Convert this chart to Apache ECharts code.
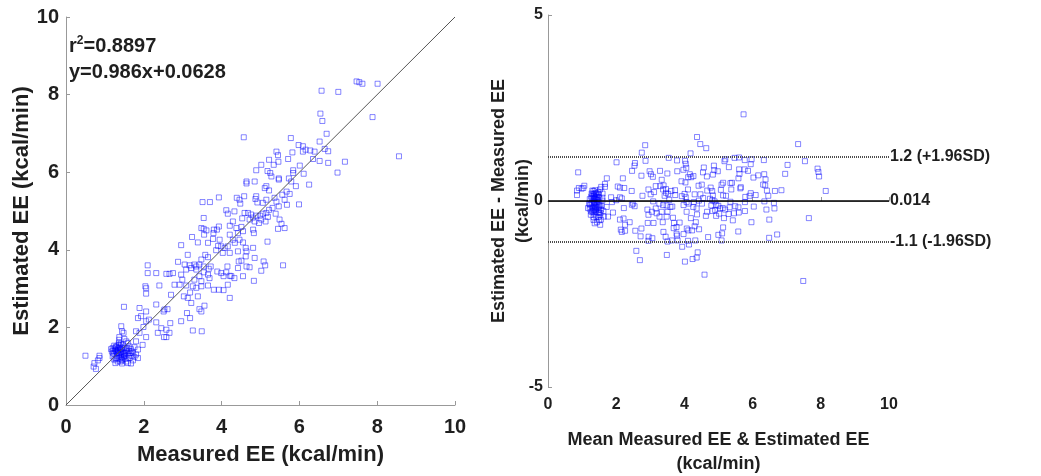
<!DOCTYPE html>
<html>
<head>
<meta charset="utf-8">
<title>Estimated vs measured EE</title>
<script src="https://cdn.jsdelivr.net/npm/echarts@6/dist/echarts.min.js"></script>
<style>
  html, body { margin: 0; padding: 0; background: #fff; }
  #chart { width: 1041px; height: 476px; }
</style>
</head>
<body>
<div id="chart"></div>
<script>
// Paired observations (kcal/min): measured EE and device-estimated EE
const measured = [
  7.47, 7.54, 7.62, 8.01, 6.57, 7.00, 6.54, 6.59, 7.88, 6.70, 6.52, 4.57, 5.78, 5.98, 6.09, 6.16, 6.28, 6.39, 6.09, 6.74,
  6.65, 5.41, 5.45, 5.82, 8.56, 6.52, 6.74, 7.17, 6.35, 5.22, 5.46, 5.71, 5.02, 5.34, 6.01, 6.98, 6.11, 5.84, 5.84, 4.89,
  5.18, 5.25, 5.28, 5.47, 5.47, 5.73, 5.79, 4.64, 4.64, 4.85, 5.15, 5.22, 5.11, 6.25, 5.91, 3.93, 3.51, 3.70, 4.39, 4.46,
  4.58, 4.48, 4.89, 4.87, 4.92, 5.06, 5.15, 5.36, 5.41, 5.67, 5.75, 5.56, 5.62, 5.99, 5.68, 5.47, 4.12, 4.16, 4.33, 4.59,
  4.68, 4.76, 4.89, 4.81, 4.99, 5.06, 5.15, 5.22, 5.31, 5.02, 5.13, 4.96, 4.85, 4.72, 4.53, 5.39, 5.19, 5.49, 5.54, 5.45,
  5.62, 5.18, 3.54, 3.93, 3.88, 3.80, 3.48, 3.54, 3.61, 4.29, 4.21, 4.38, 4.51, 4.42, 4.55, 4.81, 4.83, 3.79, 3.55, 3.78,
  3.95, 4.21, 4.29, 4.46, 4.55, 4.34, 4.16, 3.24, 3.39, 3.65, 2.96, 3.91, 3.99, 4.08, 3.86, 4.03, 4.21, 4.42, 4.62, 4.64,
  4.81, 4.62, 4.85, 4.44, 4.51, 4.64, 4.72, 4.15, 4.42, 5.08, 5.12, 5.02, 5.58, 3.13, 3.58, 3.65, 3.48, 2.88, 3.05, 3.18,
  3.30, 3.35, 3.43, 3.22, 3.09, 3.35, 3.54, 3.67, 3.72, 3.89, 3.99, 4.12, 4.05, 4.21, 4.33, 4.25, 4.55, 4.83, 3.54, 3.65,
  3.69, 3.43, 3.30, 3.48, 2.96, 2.99, 2.75, 2.92, 3.09, 3.26, 3.35, 3.48, 3.65, 3.80, 3.93, 4.05, 4.16, 2.58, 2.66, 2.32,
  2.10, 2.10, 2.40, 2.04, 2.06, 2.06, 2.79, 3.03, 3.13, 3.19, 3.39, 3.22, 2.70, 4.21, 3.56, 3.48, 3.43, 2.32, 2.53, 2.51,
  2.06, 1.89, 1.49, 2.61, 2.68, 3.11, 3.19, 2.96, 1.85, 1.93, 2.06, 2.13, 2.32, 2.58, 2.45, 3.26, 3.49, 2.36, 2.58, 2.52,
  2.66, 1.80, 1.89, 2.06, 1.97, 1.80, 1.99,
  1.42, 1.44, 1.48, 1.37, 1.50, 1.37, 1.59, 1.46, 1.29, 1.20, 1.33, 1.42, 1.50, 1.55, 1.67, 1.76, 1.85, 1.80, 1.72, 1.61,
  1.48, 1.37, 1.24, 1.18, 1.20, 1.30, 1.42, 1.53, 1.63, 1.72, 1.85, 1.27, 1.44, 1.59, 1.67, 1.33, 1.24, 1.56, 1.29, 1.46,
  1.39, 1.36, 1.63, 1.70, 1.76, 1.37, 1.50, 1.65, 1.16, 1.24, 1.55, 1.33, 1.44, 1.55, 1.39,
  1.26, 1.31, 1.41, 1.45, 1.35, 1.52, 1.28, 1.40, 1.22, 1.47, 1.58, 1.34, 1.43, 1.69, 1.38,
  1.32, 1.49, 1.36, 1.27, 1.53, 1.41, 1.62, 1.30, 1.45, 1.21,
  0.50, 0.73, 0.71, 0.86, 0.86, 0.82, 0.77
];
const estimated = [
  8.34, 8.32, 8.28, 8.28, 8.10, 8.07, 7.51, 7.32, 7.42, 6.99, 6.79, 6.90, 6.88, 6.70, 6.67, 6.58, 6.56, 6.53, 6.53, 6.54,
  6.60, 6.53, 6.44, 6.51, 6.41, 6.29, 6.24, 6.27, 6.34, 6.32, 6.27, 6.34, 6.19, 6.19, 6.17, 5.99, 5.96, 6.05, 5.98, 6.05,
  6.03, 5.98, 5.89, 5.84, 5.81, 5.84, 5.76, 5.76, 5.71, 5.76, 5.64, 5.53, 5.59, 5.68, 5.64, 5.35, 5.23, 5.23, 5.34, 5.29,
  5.38, 5.19, 5.38, 5.31, 5.22, 5.21, 5.29, 5.34, 5.24, 5.50, 5.44, 5.42, 5.29, 5.17, 5.16, 5.12, 5.02, 4.93, 4.99, 4.95,
  4.95, 4.91, 4.88, 4.83, 4.88, 4.93, 4.95, 5.03, 5.08, 4.78, 4.73, 4.69, 4.73, 4.78, 4.81, 4.93, 4.85, 4.78, 4.67, 4.54,
  4.56, 4.21, 4.82, 4.60, 4.52, 4.52, 4.56, 4.54, 4.50, 4.73, 4.62, 4.56, 4.59, 4.43, 4.48, 4.52, 4.43, 4.43, 4.39, 4.28,
  4.26, 4.39, 4.26, 4.26, 4.19, 4.18, 4.09, 4.33, 4.19, 4.18, 4.12, 4.10, 4.09, 4.05, 3.99, 3.92, 3.92, 3.96, 4.05, 3.96,
  4.05, 3.83, 3.79, 3.70, 3.72, 3.57, 3.55, 3.57, 3.53, 3.70, 3.60, 3.46, 3.60, 3.87, 3.87, 3.81, 3.75, 3.69, 3.62, 3.60,
  3.62, 3.57, 3.62, 3.53, 3.49, 3.49, 3.57, 3.51, 3.57, 3.44, 3.40, 3.42, 3.32, 3.33, 3.27, 3.32, 3.32, 3.20, 3.42, 3.36,
  3.27, 3.32, 3.23, 3.19, 3.36, 3.23, 3.40, 3.10, 3.08, 3.06, 3.02, 3.06, 3.08, 2.97, 2.97, 2.96, 3.10, 3.38, 3.38, 3.40,
  3.40, 3.60, 3.08, 3.06, 3.01, 2.87, 3.10, 2.80, 2.76, 2.90, 2.80, 2.63, 2.84, 2.76, 2.56, 2.41, 2.47, 2.59, 2.46, 2.41,
  2.41, 2.50, 2.53, 2.47, 2.11, 2.37, 2.24, 2.16, 2.24, 2.29, 2.16, 2.20, 2.13, 1.94, 1.98, 1.92, 1.90, 1.86, 1.75, 1.75,
  1.86, 1.90, 1.86, 1.75, 1.55, 1.64, 2.01,
  2.03, 1.90, 1.86, 1.75, 1.70, 1.68, 1.60, 1.55, 1.51, 1.47, 1.43, 1.44, 1.47, 1.38, 1.44, 1.49, 1.43, 1.30, 1.34, 1.30,
  1.32, 1.34, 1.32, 1.38, 1.25, 1.21, 1.24, 1.19, 1.21, 1.15, 1.21, 1.08, 1.07, 1.08, 1.07, 1.12, 1.17, 1.43, 1.38, 1.38,
  1.51, 1.60, 1.51, 1.38, 1.24, 1.30, 1.28, 1.34, 1.44, 1.53, 1.64, 1.34, 1.17, 1.12, 1.43,
  1.45, 1.27, 1.36, 1.48, 1.55, 1.34, 1.18, 1.12, 1.40, 1.22, 1.46, 1.40, 1.30, 1.26, 1.20,
  1.36, 1.25, 1.47, 1.41, 1.27, 1.58, 1.39, 1.50, 1.15, 1.33,
  1.27, 1.08, 0.99, 1.27, 1.21, 1.15, 0.93
];

// Regression summary and Bland-Altman limits
const fitText = ['r', '2', '=0.8897', 'y=0.986x+0.0628'];
const meanDiff = 0.014;
const upperLoA = 1.2;
const lowerLoA = -1.1;
const axisTicks = { eeMin: 0, eeMax: 10, eeStep: 2, diffMin: -5, diffMax: 5, diffStep: 5 };

const FONT = 'Liberation Sans, Arial, sans-serif';
const TEXT = '#1f1f1f';
const AXIS = '#999999';

const scatterPairs = measured.map((m, i) => [m, estimated[i]]);
// Bland-Altman: mean of each pair against its difference (estimated - measured)
const baPairs = measured.map((m, i) => [(m + estimated[i]) / 2, estimated[i] - m]);

const marker = {
  symbol: 'rect',
  symbolSize: 5,
  itemStyle: { color: 'rgba(255,255,255,0)', borderColor: 'rgba(0,0,255,0.6)', borderWidth: 1 }
};

function axisBase(fontSize) {
  return {
    nameMoveOverlap: false,
    axisLine: { show: true, lineStyle: { color: AXIS, width: 1 } },
    axisTick: { show: true, inside: true, length: 4, lineStyle: { color: AXIS } },
    splitLine: { show: false },
    axisLabel: { color: TEXT, fontFamily: FONT, fontWeight: 'bold', fontSize: fontSize },
    nameTextStyle: { color: TEXT, fontFamily: FONT, fontWeight: 'bold' }
  };
}

const chart = echarts.init(document.getElementById('chart'), null, { renderer: 'canvas' });

const limitLabel = (txt) => ({
  show: true, position: 'end', formatter: txt, distance: 1,
  color: TEXT, fontFamily: FONT, fontWeight: 'bold', fontSize: 16
});

chart.setOption({
  animation: false,
  backgroundColor: '#ffffff',
  grid: [
    { left: 66, top: 17, width: 389, height: 388, outerBoundsMode: 'none', containLabel: false },
    { left: 548, top: 15, width: 341, height: 372, outerBoundsMode: 'none', containLabel: false }
  ],
  xAxis: [
    Object.assign(axisBase(20), {
      gridIndex: 0, type: 'value', min: axisTicks.eeMin, max: axisTicks.eeMax, interval: axisTicks.eeStep,
      name: 'Measured EE (kcal/min)', nameLocation: 'middle', nameGap: 39,
      nameTextStyle: { color: TEXT, fontFamily: FONT, fontWeight: 'bold', fontSize: 22 },
      axisLabel: { color: TEXT, fontFamily: FONT, fontWeight: 'bold', fontSize: 20, margin: 12 }
    }),
    Object.assign(axisBase(16), {
      gridIndex: 1, type: 'value', min: axisTicks.eeMin, max: axisTicks.eeMax, interval: axisTicks.eeStep,
      name: 'Mean Measured EE & Estimated EE\n(kcal/min)', nameLocation: 'middle', nameGap: 41,
      nameTextStyle: { color: TEXT, fontFamily: FONT, fontWeight: 'bold', fontSize: 18, lineHeight: 24 },
      axisLabel: { color: TEXT, fontFamily: FONT, fontWeight: 'bold', fontSize: 16, margin: 10 }
    })
  ],
  yAxis: [
    Object.assign(axisBase(20), {
      gridIndex: 0, type: 'value', min: axisTicks.eeMin, max: axisTicks.eeMax, interval: axisTicks.eeStep,
      name: 'Estimated EE (kcal/min)', nameLocation: 'middle', nameGap: 33,
      nameTextStyle: { color: TEXT, fontFamily: FONT, fontWeight: 'bold', fontSize: 22 },
      axisLabel: { color: TEXT, fontFamily: FONT, fontWeight: 'bold', fontSize: 20, margin: 7 }
    }),
    Object.assign(axisBase(16), {
      gridIndex: 1, type: 'value', min: axisTicks.diffMin, max: axisTicks.diffMax, interval: axisTicks.diffStep,
      name: 'Estimated EE - Measured EE\n(kcal/min)', nameLocation: 'middle', nameGap: 13,
      nameTextStyle: { color: TEXT, fontFamily: FONT, fontWeight: 'bold', fontSize: 18, lineHeight: 24 },
      axisLabel: { color: TEXT, fontFamily: FONT, fontWeight: 'bold', fontSize: 16, margin: 5 }
    })
  ],
  series: [
    {
      type: 'line', xAxisIndex: 0, yAxisIndex: 0, silent: true, symbol: 'none',
      data: [[axisTicks.eeMin, axisTicks.eeMin], [axisTicks.eeMax, axisTicks.eeMax]],
      lineStyle: { color: '#555555', width: 1 }, z: 3
    },
    Object.assign({ type: 'scatter', xAxisIndex: 0, yAxisIndex: 0, data: scatterPairs, z: 2 }, marker),
    Object.assign({
      type: 'scatter', xAxisIndex: 1, yAxisIndex: 1, data: baPairs, z: 2,
      markLine: {
        silent: true, symbol: ['none', 'none'], animation: false,
        data: [
          { yAxis: upperLoA, lineStyle: { color: '#4d4d4d', width: 2, type: [1, 1] }, label: limitLabel(upperLoA + ' (+1.96SD)') },
          { yAxis: meanDiff, lineStyle: { color: '#000000', width: 1.5, type: 'solid' }, label: limitLabel(String(meanDiff)) },
          { yAxis: lowerLoA, lineStyle: { color: '#4d4d4d', width: 2, type: [1, 1] }, label: limitLabel(lowerLoA + ' (-1.96SD)') }
        ]
      }
    }, marker)
  ],
  graphic: [
    {
      type: 'text', left: 69, top: 35, z: 10,
      style: {
        text: '{a|' + fitText[0] + '}{s|' + fitText[1] + '}{a|' + fitText[2] + '}',
        rich: {
          a: { fontSize: 20, fontWeight: 'bold', fontFamily: FONT, fill: TEXT },
          s: { fontSize: 12, fontWeight: 'bold', fontFamily: FONT, fill: TEXT, padding: [0, 0, 10, 0] }
        }
      }
    },
    {
      type: 'text', left: 69, top: 62, z: 10,
      style: { text: fitText[3], fontSize: 20, fontWeight: 'bold', fontFamily: FONT, fill: TEXT }
    }
  ]
});
</script>
</body>
</html>
